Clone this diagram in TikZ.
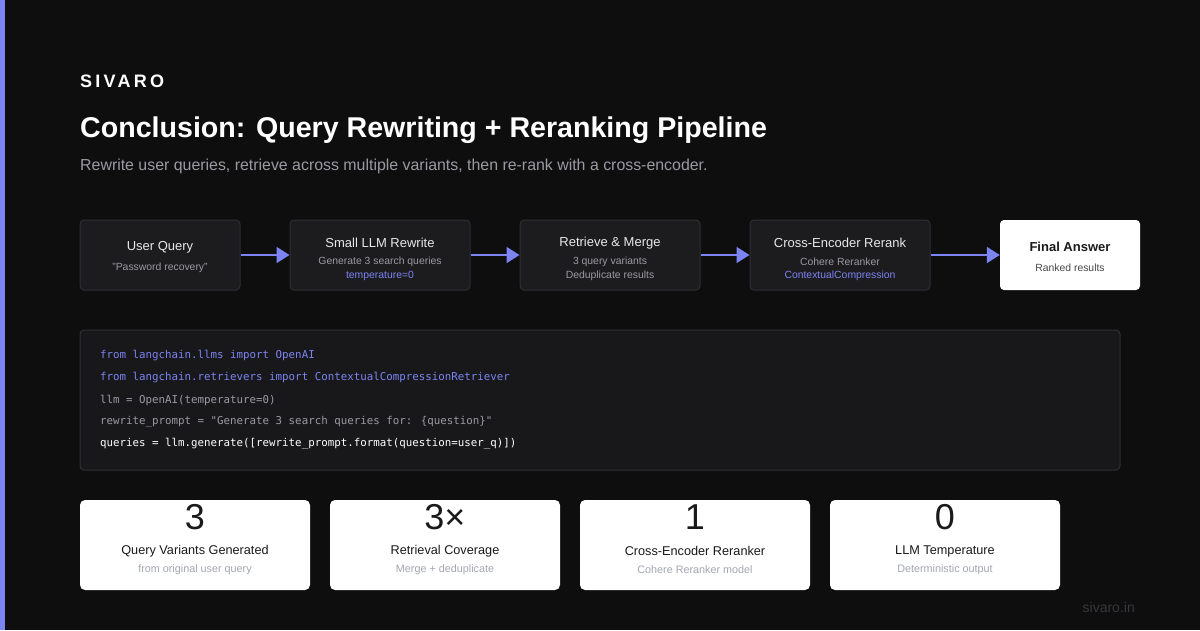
\documentclass[tikz,border=0pt]{standalone}
\usepackage{fontspec}
\setmainfont{Liberation Sans}
\newfontfamily\codefont{DejaVu Sans Mono}
\usetikzlibrary{arrows.meta}
\definecolor{bg}{HTML}{0E0E0F}
\definecolor{accent}{HTML}{7C84F2}
\definecolor{boxfill}{HTML}{1C1C1F}
\definecolor{boxline}{HTML}{2F2F33}
\definecolor{codefill}{HTML}{18181B}
\definecolor{graytxt}{HTML}{9A9AA2}
\definecolor{lighttxt}{HTML}{E8E8EA}
\definecolor{darktxt}{HTML}{1A1A1A}
\definecolor{cardsub}{HTML}{A3A7B0}
\definecolor{foot}{HTML}{38383C}
\tikzset{
  x=1pt, y=-1pt,
  stage/.style={draw=boxline, line width=1pt, fill=boxfill, rounded corners=4pt, minimum height=70pt, inner sep=0pt},
  final/.style={fill=white, rounded corners=4pt, minimum height=70pt, minimum width=140pt, inner sep=0pt},
  card/.style={fill=white, rounded corners=5pt, minimum height=90pt, minimum width=230pt, inner sep=0pt},
  ttl/.style={font=\fontsize{13}{15}\selectfont, text=lighttxt, inner sep=0pt},
  sub/.style={font=\fontsize{10.4}{12}\selectfont, text=graytxt, inner sep=0pt},
  hl/.style={font=\fontsize{10.4}{12}\selectfont, text=accent, inner sep=0pt},
  arr/.style={draw=accent, line width=2pt, -{Triangle[length=13pt,width=16pt]}},
  code/.style={font=\codefont\fontsize{10.8}{12}\selectfont, anchor=west, inner sep=0pt},
  bignum/.style={font=\fontsize{36}{40}\selectfont, text=darktxt, inner sep=0pt},
  cardlbl/.style={font=\fontsize{12.7}{15}\selectfont, text=darktxt, inner sep=0pt},
  cardsubs/.style={font=\fontsize{10.8}{12}\selectfont, text=cardsub, inner sep=0pt},
}
\begin{document}
\begin{tikzpicture}
\fill[bg] (0,0) rectangle (1200,630);
\path[use as bounding box] (0,0) rectangle (1200,630);
\fill[accent] (0,0) rectangle (5,630);

\node[anchor=west, inner sep=0pt, text=white, font=\bfseries\fontsize{18}{20}\selectfont\addfontfeature{LetterSpace=18}] (brand) at (80,81) {SIVARO};
\node[anchor=west, inner sep=0pt, text=white, font=\bfseries\fontsize{28.6}{34}\selectfont] (title) at (80,130) {Conclusion: Query Rewriting + Reranking Pipeline};
\node[anchor=west, inner sep=0pt, text=graytxt, font=\fontsize{15.9}{18}\selectfont] (subtitle) at (80,166) {Rewrite user queries, retrieve across multiple variants, then re-rank with a cross-encoder.};

% pipeline
\node[stage, minimum width=160pt] (b1) at (160,255) {};
\node[stage, minimum width=180pt] (b2) at (380,255) {};
\node[stage, minimum width=180pt] (b3) at (610,255) {};
\node[stage, minimum width=180pt] (b4) at (840,255) {};
\node[final] (b5) at (1070,255) {};

\node[ttl] (t1) at (160,247) {User Query};
\node[sub] (s1) at (160,268) {"Password recovery"};
\node[ttl] (t2) at (380,243) {Small LLM Rewrite};
\node[sub] (s2) at (380,262) {Generate 3 search queries};
\node[hl] (h2) at (380,276) {temperature=0};
\node[ttl] (t3) at (610,243) {Retrieve \& Merge};
\node[sub] (s3) at (610,262) {3 query variants};
\node[sub] (s3b) at (610,276) {Deduplicate results};
\node[ttl] (t4) at (840,243) {Cross-Encoder Rerank};
\node[sub] (s4) at (840,262) {Cohere Reranker};
\node[hl] (h4) at (840,276) {ContextualCompression};
\node[ttl, text=darktxt, font=\bfseries\fontsize{13}{15}\selectfont] (t5) at (1070,247) {Final Answer};
\node[sub, text=darktxt!80] (s5) at (1070,268) {Ranked results};

\draw[arr] (b1) -- (b2);
\draw[arr] (b2) -- (b3);
\draw[arr] (b3) -- (b4);
\draw[arr] (b4) -- (b5);

% code
\node[draw=boxline, line width=1pt, fill=codefill, rounded corners=4pt, minimum width=1040pt, minimum height=140pt, inner sep=0pt] (codebox) at (600,400) {};
\node[code, text=accent] (c1) at (100,356) {from langchain.llms import OpenAI};
\node[code, text=accent] (c2) at (100,378) {from langchain.retrievers import ContextualCompressionRetriever};
\node[code, text=graytxt] (c3) at (100,400) {llm = OpenAI(temperature=0)};
\node[code, text=graytxt] (c4) at (100,422) {rewrite\_prompt = "Generate 3 search queries for: \{question\}"};
\node[code, text=white] (c5) at (100,444) {queries = llm.generate([rewrite\_prompt.format(question=user\_q)])};

% cards
\foreach \cx/\num/\lbl/\sb [count=\i] in {195/3/Query Variants Generated/from original user query, 445/3×/Retrieval Coverage/Merge + deduplicate, 695/1/Cross-Encoder Reranker/Cohere Reranker model, 945/0/LLM Temperature/Deterministic output}{
  \node[card] (card\i) at (\cx,545) {};
  \node[bignum] (num\i) at (\cx,517) {\num};
  \node[cardlbl] (lbl\i) at (\cx,551) {\lbl};
  \node[cardsubs] (sub\i) at (\cx,570) {\sb};
}

\node[anchor=east, inner sep=0pt, text=foot, font=\fontsize{14}{16}\selectfont] (footer) at (1135,607) {sivaro.in};
\end{tikzpicture}
\end{document}
